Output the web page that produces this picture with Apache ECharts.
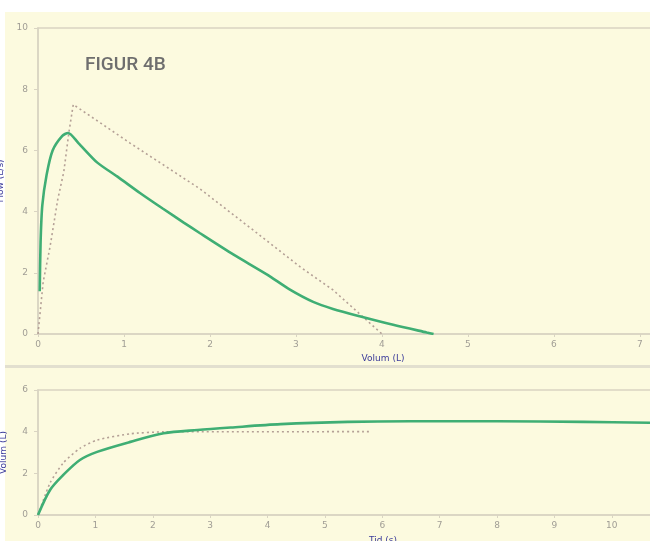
<!DOCTYPE html>
<html><head><meta charset="utf-8">
<script src="https://cdn.jsdelivr.net/npm/echarts@6/dist/echarts.min.js"></script>
<style>html,body{margin:0;padding:0;background:#fff;}#c{width:650px;height:541px;}</style>
</head><body><div id="c"></div>
<script>
// Top panel: flow-volume loop (measured + predicted)
const topVol  = [0.02,0.03,0.05,0.1,0.17,0.28,0.35,0.47,0.69,0.92,1.19,1.45,1.69,1.88,2.27,2.66,2.93,3.2,3.43,3.74,4.13,4.52,4.6];
const topFlow = [1.4,3.0,4.2,5.2,6.0,6.47,6.57,6.24,5.6,5.15,4.6,4.1,3.65,3.3,2.6,1.95,1.45,1.05,0.82,0.58,0.3,0.05,0];
const predVol  = [0,0.06,0.14,0.23,0.3,0.36,0.41,1.07,1.88,2.5,3.05,3.43,4.0];
const predFlow = [0,1.7,2.85,4.4,5.3,6.6,7.5,6.24,4.75,3.4,2.19,1.44,0];
// Bottom panel: volume-time
const timeT = [0,0.21,0.44,0.73,1.03,1.61,2.19,2.78,3.36,4.23,5.4,6.5,8,9.5,10.7];
const volV  = [0,1.2,1.92,2.64,3.03,3.51,3.92,4.08,4.2,4.36,4.47,4.5,4.5,4.47,4.43];
const predT = [0,0.21,0.44,0.73,1.03,1.61,2.19,5.8];
const predV = [0,1.54,2.5,3.2,3.6,3.9,3.99,4.0];

const pairs = (a,b)=>a.map((v,i)=>[v,b[i]]);
const chart = echarts.init(document.getElementById('c'), null, {renderer:'canvas'});
const axisCol = '#d9d4c2', labCol = '#a09d95', nameCol = '#3b3b9a';
const green = '#3fae74', dotCol = '#b4a096';
function xAx(idx, max, name, pad){
  return {type:'value', gridIndex:idx, min:0, max:max, interval:1,
    axisLine:{show:true,lineStyle:{color:axisCol,width:1.5}},
    axisTick:{show:true,length:3,lineStyle:{color:axisCol}},
    axisLabel:{color:labCol,fontSize:9,margin:6,showMaxLabel:false,fontFamily:'DejaVu Sans'},
    splitLine:{show:false},
    name:name, nameLocation:'middle', nameGap:pad,
    nameTextStyle:{color:nameCol,fontSize:9,fontFamily:'DejaVu Sans',padding:[0,0,0,76]}};
}
function yAx(idx, max, name){
  return {type:'value', gridIndex:idx, min:0, max:max, interval:2,
    axisLine:{show:true,lineStyle:{color:axisCol,width:1.5}},
    axisTick:{show:true,length:4,lineStyle:{color:axisCol}},
    axisLabel:{color:labCol,fontSize:9,margin:10,fontFamily:'DejaVu Sans'},
    splitLine:{show:false},
    name:name, nameLocation:'middle', nameRotate:90, nameGap:30,
    nameTextStyle:{color:nameCol,fontSize:9,fontFamily:'DejaVu Sans'}};
}
chart.setOption({
  animation:false,
  backgroundColor:'#ffffff',
  graphic:[
    {type:'rect', z:-10, shape:{x:5,y:12,width:650,height:540}, style:{fill:'#fcfadf'}},
    {type:'rect', z:-9, shape:{x:5,y:365,width:650,height:3}, style:{fill:'#e2dfcf'}}
  ],
  title:{text:'FIGUR 4B', left:85, top:56, padding:0,
    textStyle:{color:'#6e6e6e',fontSize:19,fontWeight:500,fontFamily:'Roboto'}},
  grid:[
    {left:38, right:-2, top:28, bottom:207, show:true, borderColor:axisCol, borderWidth:1.5, backgroundColor:'transparent', outerBoundsMode:'none', containLabel:false},
    {left:38, right:-2, top:390, bottom:26, show:true, borderColor:axisCol, borderWidth:1.5, backgroundColor:'transparent', outerBoundsMode:'none', containLabel:false}
  ],
  xAxis:[ xAx(0, 7.14, 'Volum (L)', 19), xAx(1, 10.7, 'Tid (s)', 21) ],
  yAxis:[ yAx(0, 10, 'Flow (L/s)'), yAx(1, 6, 'Volum (L)') ],
  series:[
    {type:'line', xAxisIndex:0, yAxisIndex:0, data:pairs(predVol,predFlow), showSymbol:false,
      lineStyle:{color:dotCol,width:1.6,type:[2,3]}, z:2},
    {type:'line', xAxisIndex:0, yAxisIndex:0, data:pairs(topVol,topFlow), showSymbol:false, smooth:0.25,
      lineStyle:{color:green,width:2.6}, z:3},
    {type:'line', xAxisIndex:1, yAxisIndex:1, data:pairs(predT,predV), showSymbol:false, smooth:0.2,
      lineStyle:{color:dotCol,width:1.6,type:[2,3]}, z:2},
    {type:'line', xAxisIndex:1, yAxisIndex:1, data:pairs(timeT,volV), showSymbol:false, smooth:0.3,
      lineStyle:{color:green,width:2.6}, z:3}
  ]
});
</script></body></html>
